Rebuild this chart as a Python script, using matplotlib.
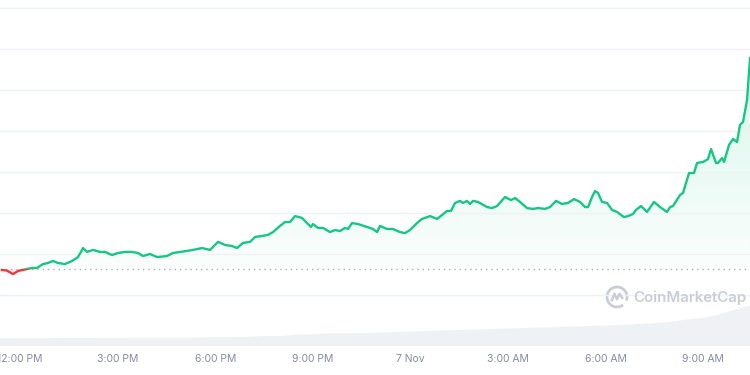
import numpy as np
import matplotlib
matplotlib.use("Agg")
import matplotlib.pyplot as plt
from matplotlib.patches import Rectangle, Arc, PathPatch
from matplotlib.path import Path
from matplotlib.lines import Line2D

plt.rcParams['font.family'] = ['Inter', 'DejaVu Sans']

# ---- data (hours after 12:00 PM, 6 Nov) ----
hours = [-0.553, -0.400, -0.215, -0.061, 0.215, 0.369, 0.523, 0.707, 0.861, 1.014,
         1.168, 1.383, 1.598, 1.783, 1.937, 2.060, 2.244, 2.459, 2.613, 2.828,
         3.013, 3.228, 3.443, 3.627, 3.781, 3.996, 4.212, 4.519, 4.703, 4.919,
         5.134, 5.318, 5.595, 5.841, 6.087, 6.302, 6.517, 6.671, 6.855, 7.071,
         7.224, 7.439, 7.624, 7.777, 7.993, 8.146, 8.300, 8.454, 8.669, 8.823,
         8.946, 9.007, 9.161, 9.314, 9.530, 9.683, 9.837, 9.991, 10.083, 10.206,
         10.390, 10.667, 10.852, 10.975, 11.067, 11.282, 11.466, 11.682, 11.835, 11.989,
         12.204, 12.358, 12.604, 12.819, 12.973, 13.126, 13.249, 13.372, 13.526, 13.618,
         13.741, 13.833, 13.926, 14.079, 14.356, 14.510, 14.664, 14.909, 15.094, 15.217,
         15.371, 15.586, 15.770, 15.924, 16.139, 16.293, 16.477, 16.662, 16.846, 17.031,
         17.215, 17.369, 17.461, 17.584, 17.676, 17.768, 17.891, 18.045, 18.199, 18.352,
         18.567, 18.690, 18.844, 18.936, 19.090, 19.274, 19.490, 19.674, 19.889, 19.982,
         20.074, 20.289, 20.381, 20.566, 20.719, 20.812, 20.996, 21.150, 21.242, 21.396,
         21.457, 21.580, 21.642, 21.795, 21.918, 22.041, 22.133, 22.225, 22.349, 22.441]
price = [0.4122, 0.4119, 0.4102, 0.4117, 0.4127, 0.4132, 0.4132, 0.4151, 0.4156, 0.4166,
         0.4156, 0.4151, 0.4166, 0.4185, 0.4229, 0.4210, 0.4220, 0.4210, 0.4210, 0.4195,
         0.4205, 0.4210, 0.4210, 0.4205, 0.4190, 0.4200, 0.4185, 0.4190, 0.4205, 0.4210,
         0.4215, 0.4220, 0.4229, 0.4220, 0.4259, 0.4244, 0.4239, 0.4229, 0.4254, 0.4259,
         0.4283, 0.4288, 0.4293, 0.4307, 0.4337, 0.4356, 0.4356, 0.4385, 0.4376, 0.4351,
         0.4332, 0.4346, 0.4327, 0.4327, 0.4307, 0.4317, 0.4312, 0.4327, 0.4322, 0.4351,
         0.4346, 0.4332, 0.4322, 0.4307, 0.4337, 0.4322, 0.4322, 0.4307, 0.4302, 0.4317,
         0.4351, 0.4371, 0.4385, 0.4371, 0.4390, 0.4410, 0.4410, 0.4449, 0.4459, 0.4449,
         0.4459, 0.4444, 0.4459, 0.4454, 0.4429, 0.4424, 0.4434, 0.4478, 0.4463, 0.4473,
         0.4454, 0.4424, 0.4420, 0.4424, 0.4420, 0.4429, 0.4459, 0.4444, 0.4449, 0.4468,
         0.4454, 0.4429, 0.4429, 0.4478, 0.4507, 0.4498, 0.4454, 0.4449, 0.4415, 0.4405,
         0.4380, 0.4385, 0.4395, 0.4415, 0.4434, 0.4405, 0.4454, 0.4429, 0.4405, 0.4429,
         0.4434, 0.4488, 0.4498, 0.4595, 0.4595, 0.4644, 0.4649, 0.4663, 0.4712, 0.4644,
         0.4644, 0.4668, 0.4649, 0.4732, 0.4761, 0.4746, 0.4829, 0.4844, 0.4951, 0.5156]
open_price = 0.4127

vol_hours = [-0.65, 0.0, 0.5, 1.0, 1.5, 2.0, 2.5, 3.0, 3.5, 4.0, 4.5, 5.0, 5.5, 6.0, 6.5,
             7.0, 7.5, 8.0, 8.5, 9.0, 9.5, 10.0, 10.5, 11.0, 11.5, 12.0, 12.5, 13.0, 13.5,
             14.0, 14.5, 15.0, 15.5, 16.0, 16.5, 17.0, 17.5, 18.0, 18.5, 19.0, 19.5, 20.0,
             20.5, 21.0, 21.5, 22.0, 22.5]
volume = [7.7, 7.8, 7.8, 7.9, 8.0, 8.0, 8.1, 8.1, 8.2, 8.2, 8.3, 8.3, 8.4, 9.0, 9.0,
          9.2, 10.0, 10.0, 11.5, 11.7, 12.6, 12.7, 12.8, 13.3, 13.8, 14.4, 15.0, 15.6, 16.0,
          16.5, 17.0, 17.5, 18.0, 18.4, 19.0, 19.5, 20.0, 20.5, 21.0, 22.0, 23.0, 24.0,
          26.5, 28.0, 31.5, 36.5, 41.0]

tick_hours = [0, 3, 6, 9, 12, 15, 18, 21]
tick_labels = ['12:00 PM', '3:00 PM', '6:00 PM', '9:00 PM', '7 Nov', '3:00 AM', '6:00 AM', '9:00 AM']
grid_levels = [0.40, 0.42, 0.44, 0.46, 0.48, 0.50, 0.52, 0.54]

GREEN = '#16c784'
RED = '#ea3943'

hours_a = np.array(hours)
price_a = np.array(price)

fig = plt.figure(figsize=(7.5, 3.75), dpi=100)
ax = fig.add_axes([0, 29 / 375, 1, 346 / 375])
xmin, xmax = -0.615, 22.44
ymin, ymax = 0.37512, 0.5439
ax.set_xlim(xmin, xmax)
ax.set_ylim(ymin, ymax)

# volume axis (area of the rolling volume)
axv = ax.twinx()
axv.set_ylim(0, 346)
axv.fill_between(vol_hours, volume, 0, color='#f0f1f4', linewidth=0)
axv.set_yticks([])
for s in axv.spines.values():
    s.set_visible(False)
axv.set_zorder(0)
ax.set_zorder(1)
ax.patch.set_visible(False)

# grid
ax.set_yticks(grid_levels)
ax.yaxis.grid(True, color='#eff2f5', linewidth=1)
ax.tick_params(axis='y', length=0, labelleft=False)
for s in ax.spines.values():
    s.set_visible(False)

# green gradient fill above open
upper = np.maximum(price_a, open_price)
verts = [(hours_a[0], open_price)] + list(zip(hours_a, upper)) + [(hours_a[-1], open_price), (hours_a[0], open_price)]
codes = [Path.MOVETO] + [Path.LINETO] * (len(verts) - 2) + [Path.CLOSEPOLY]
clip = PathPatch(Path(verts, codes), facecolor='none', edgecolor='none', transform=ax.transData)
ax.add_patch(clip)
grad = np.zeros((256, 1, 4))
rgb = matplotlib.colors.to_rgb(GREEN)
grad[..., 0], grad[..., 1], grad[..., 2] = rgb
grad[:, 0, 3] = np.linspace(0.02, 0.2, 256)
im = ax.imshow(grad, extent=[xmin, xmax, open_price, ymax], origin='lower', aspect='auto', zorder=1)
im.set_clip_path(clip)

# red fill below open
ax.fill_between(hours_a, price_a, open_price, where=price_a < open_price, interpolate=True,
                color=RED, alpha=0.12, linewidth=0, zorder=1)

# baseline
ax.axhline(open_price, color='#a6adbf', linewidth=1, linestyle=(0, (1, 2.8)), zorder=2)

# lines
lg, = ax.plot(hours_a, price_a, color=GREEN, linewidth=1.7, solid_joinstyle='round', zorder=3)
lg.set_clip_path(Rectangle((xmin, open_price), xmax - xmin, 1, transform=ax.transData))
lr, = ax.plot(hours_a, price_a, color=RED, linewidth=1.7, solid_joinstyle='round', zorder=3)
lr.set_clip_path(Rectangle((xmin, 0), xmax - xmin, open_price, transform=ax.transData))

# x ticks
ax.set_xticks(tick_hours, tick_labels)
ax.tick_params(axis='x', length=0, pad=6, labelsize=7.5, labelcolor='#858ca2')

# watermark
wm = '#c9cdd7'
ax.text(746 / 750, (346 - 298) / 346, 'CoinMarketCap', transform=ax.transAxes,
        ha='right', va='center', fontsize=10.8, color=wm, fontweight='semibold')
cx, cy = 617 / 750, (346 - 297) / 346
ax.add_patch(Arc((cx, cy), 20 / 750, 20 / 346, theta1=-40, theta2=290, transform=ax.transAxes,
                 color=wm, linewidth=2.0))
zx = [-5.2, -2.6, 0, 2.6, 5.2]
zy = [-3.3, 3.3, -2.3, 3.3, -1]
ax.add_line(Line2D([cx + d / 750 for d in zx], [cy + d / 346 for d in zy], transform=ax.transAxes,
                   color=wm, linewidth=1.8, solid_joinstyle='round'))

fig.savefig('out.png', dpi=100)
